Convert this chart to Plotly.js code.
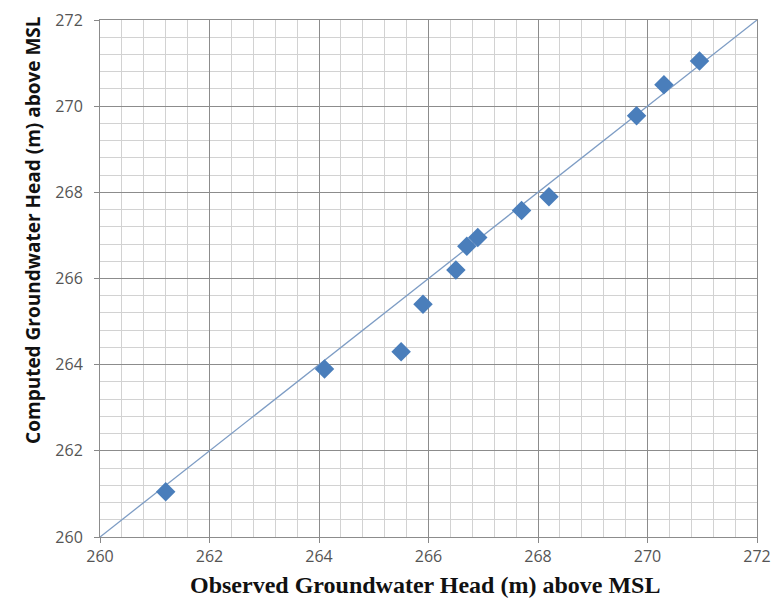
<!DOCTYPE html>
<html>
<head>
<meta charset="utf-8">
<script src="https://cdn.plot.ly/plotly-3.0.1.min.js"></script>
<style>html,body{margin:0;padding:0;background:#fff;}#chart{width:774px;height:601px;}</style>
</head>
<body>
<div id="chart"></div>
<script>
const observed = [261.2, 264.1, 265.5, 265.9, 266.5, 266.7, 266.9, 267.7, 268.2, 269.8, 270.3, 270.95];
const computed = [261.05, 263.9, 264.3, 265.4, 266.2, 266.75, 266.95, 267.58, 267.9, 269.78, 270.5, 271.05];
const lineX = [260, 272];
const lineY = [260, 272];
const tickStart = 260;
const majorStep = 2;
const minorStep = 0.4;

const axisCommon = {
  range: [260, 272],
  tickmode: 'linear',
  tick0: tickStart,
  dtick: majorStep,
  ticks: 'outside',
  ticklen: 5,
  tickcolor: '#888',
  showgrid: true,
  gridcolor: '#8c8c8c',
  gridwidth: 1,
  minor: {tick0: tickStart, dtick: minorStep, showgrid: true, gridcolor: '#d2d2d2', gridwidth: 1, ticks: ''},
  showline: true,
  linecolor: '#8c8c8c',
  linewidth: 1,
  mirror: true,
  zeroline: false,
  tickfont: {family: 'Open Sans, Liberation Sans, sans-serif', size: 16, color: '#555'}
};

const traces = [
  {x: lineX, y: lineY, mode: 'lines', line: {color: '#7d9cc4', width: 1.3}, hoverinfo: 'skip', showlegend: false},
  {x: observed, y: computed, mode: 'markers', marker: {symbol: 'diamond', size: 15, color: '#4a7ebb'}, showlegend: false}
];

const layout = {
  width: 774, height: 601,
  margin: {l: 100, r: 17, t: 20, b: 64},
  paper_bgcolor: '#fff', plot_bgcolor: '#fff',
  xaxis: Object.assign({}, axisCommon, {tickangle: 0}),
  yaxis: Object.assign({}, axisCommon, {ticklabelstandoff: 8}),
  annotations: [
    {text: '<b>Observed Groundwater Head (m) above MSL</b>', xref: 'paper', yref: 'paper', x: 0.495, y: -0.093, yanchor: 'middle', showarrow: false,
     font: {family: 'Liberation Serif, Times New Roman, serif', size: 24, color: '#111'}},
    {text: '<b>Computed Groundwater Head (m) above MSL</b>', xref: 'paper', yref: 'paper', x: -0.102, xanchor: 'center', y: 0.594, yanchor: 'middle', textangle: -90, showarrow: false,
     font: {family: 'Open Sans, Liberation Sans, sans-serif', size: 19, color: '#111'}}
  ]
};

Plotly.newPlot('chart', traces, layout, {displayModeBar: false, staticPlot: true});
</script>
</body>
</html>
